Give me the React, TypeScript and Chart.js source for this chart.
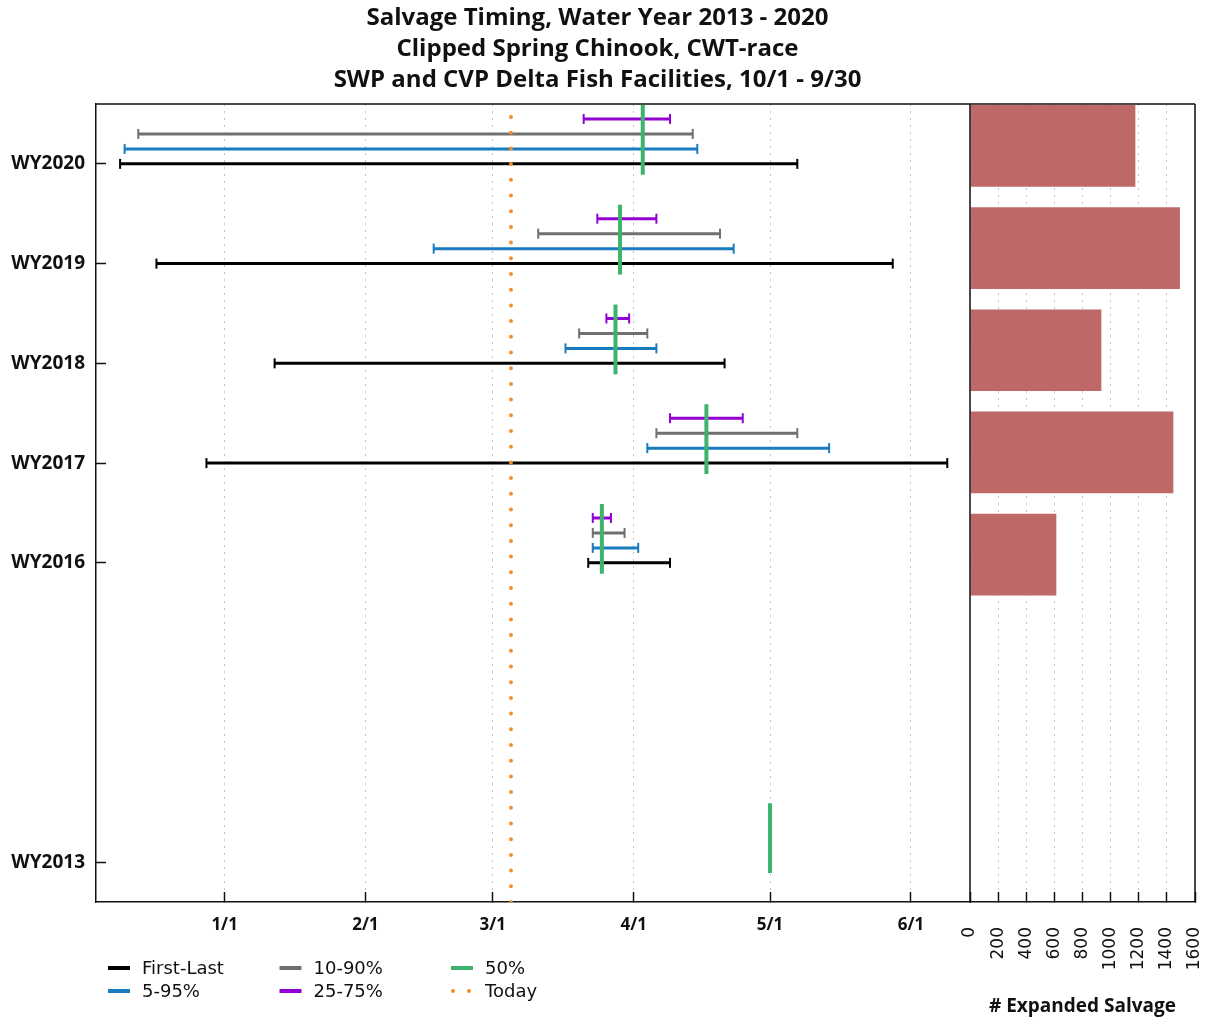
import { useEffect, useRef } from 'react';
import { Chart, registerables } from 'chart.js';

Chart.register(...registerables);

// ---------- data ----------
const titleLines = [
  'Salvage Timing, Water Year 2013 - 2020',
  'Clipped Spring Chinook, CWT-race',
  'SWP and CVP Delta Fish Facilities, 10/1 - 9/30',
];

const waterYears = [2020, 2019, 2018, 2017, 2016];
const firstLastStart = ['12/09', '12/17', '01/12', '12/28', '03/22'];
const firstLastEnd = ['05/07', '05/28', '04/21', '06/09', '04/09'];
const p5Start = ['12/10', '02/16', '03/17', '04/04', '03/23'];
const p95End = ['04/15', '04/23', '04/06', '05/14', '04/02'];
const p10Start = ['12/13', '03/11', '03/20', '04/06', '03/23'];
const p90End = ['04/14', '04/20', '04/04', '05/07', '03/30'];
const p25Start = ['03/21', '03/24', '03/26', '04/09', '03/23'];
const p75End = ['04/09', '04/06', '03/31', '04/25', '03/27'];

const medianYears = [2020, 2019, 2018, 2017, 2016, 2013];
const medianDates = ['04/03', '03/29', '03/28', '04/17', '03/25', '05/01'];

const salvageYears = [2020, 2019, 2018, 2017, 2016];
const salvageCounts = [1176, 1493, 934, 1446, 614];

const todayDate = '03/05';

const yearTicks = [2020, 2019, 2018, 2017, 2016, 2013];
const monthTickDates = ['01/01', '02/01', '03/01', '04/01', '05/01', '06/01'];
const monthTickLabels = ['1/1', '2/1', '3/1', '4/1', '5/1', '6/1'];
const axisStartDate = '12/03.7';
const axisEndDate = '06/14';
const salvageTicks = [0, 200, 400, 600, 800, 1000, 1200, 1400, 1600];

// ---------- helpers ----------
const monthStart: Record<number, number> = {
  10: 0, 11: 31, 12: 61, 1: 92, 2: 123, 3: 151, 4: 182, 5: 212, 6: 243, 7: 273, 8: 304, 9: 335,
};
function dayOfWY(s: string): number {
  const [m, d] = s.split('/').map(Number);
  return monthStart[m] + d - 1;
}

const COLORS = {
  black: '#000000',
  blue: '#1a7bbf',
  gray: '#707070',
  purple: '#9400d3',
  green: '#3cb46e',
  orange: '#f28e2b',
  bar: '#bf6868',
  text: '#111111',
  grid: '#c4c4c4',
};

function rangeData(starts: string[], ends: string[], offset: number) {
  const pts: { x: number; y: number | null }[] = [];
  waterYears.forEach((yr, i) => {
    pts.push({ x: dayOfWY(starts[i]), y: yr + offset });
    pts.push({ x: dayOfWY(ends[i]), y: yr + offset });
    pts.push({ x: dayOfWY(ends[i]), y: null });
  });
  return pts;
}

function medianData() {
  const pts: { x: number; y: number | null }[] = [];
  medianYears.forEach((yr, i) => {
    const x = dayOfWY(medianDates[i]);
    pts.push({ x, y: yr - 0.11 });
    pts.push({ x, y: yr + 0.59 });
    pts.push({ x, y: null });
  });
  return pts;
}

const legendItems = [
  { label: 'First-Last', color: COLORS.black, dotted: false },
  { label: '5-95%', color: COLORS.blue, dotted: false },
  { label: '10-90%', color: COLORS.gray, dotted: false },
  { label: '25-75%', color: COLORS.purple, dotted: false },
  { label: '50%', color: COLORS.green, dotted: false },
  { label: 'Today', color: COLORS.orange, dotted: true },
];

const framePlugin = {
  id: 'frame',
  afterDraw(chart: any) {
    const { ctx, chartArea: a, scales } = chart;
    const split = scales.x.right;
    ctx.save();
    ctx.strokeStyle = COLORS.text;
    ctx.lineWidth = 1.5;
    ctx.beginPath();
    ctx.moveTo(a.left, a.top);
    ctx.lineTo(a.right, a.top);
    ctx.moveTo(split, a.top);
    ctx.lineTo(split, a.bottom);
    ctx.moveTo(a.right, a.top);
    ctx.lineTo(a.right, a.bottom);
    ctx.stroke();
    ctx.restore();
  },
};

const legendPlugin = {
  id: 'customLegend',
  afterDraw(chart: any) {
    const { ctx } = chart;
    ctx.save();
    ctx.font = '18px "DejaVu Sans"';
    ctx.textBaseline = 'middle';
    ctx.textAlign = 'left';
    legendItems.forEach((item, i) => {
      const col = Math.floor(i / 2);
      const row = i % 2;
      const x0 = 108 + col * 171.5;
      const y0 = 968 + row * 23;
      if (item.dotted) {
        ctx.fillStyle = item.color;
        [x0 + 2, x0 + 18].forEach((dx) => {
          ctx.beginPath();
          ctx.arc(dx, y0, 2, 0, Math.PI * 2);
          ctx.fill();
        });
      } else {
        ctx.strokeStyle = item.color;
        ctx.lineWidth = 4;
        ctx.beginPath();
        ctx.moveTo(x0, y0);
        ctx.lineTo(x0 + 22, y0);
        ctx.stroke();
      }
      ctx.fillStyle = COLORS.text;
      ctx.fillText(item.label, x0 + 34, y0 + 1);
    });
    ctx.restore();
  },
};

function lineDataset(label: string, data: any[], color: string, order: number) {
  return {
    type: 'line' as const,
    label,
    data,
    xAxisID: 'x',
    yAxisID: 'y',
    borderColor: color,
    borderWidth: 3,
    pointStyle: 'line' as const,
    pointRotation: 90,
    pointRadius: 5,
    pointBorderWidth: 2,
    pointBorderColor: color,
    pointBackgroundColor: color,
    spanGaps: false,
    tension: 0,
    order,
  };
}

const noPadH = (s: any) => {
  s.paddingLeft = 0;
  s.paddingRight = 0;
};

export default function App() {
  const ref = useRef<HTMLCanvasElement>(null);

  useEffect(() => {
    if (!ref.current) return;
    const tickFontBold = (size: number) => ({ family: '"Open Sans"', weight: 'bold' as const, size });

    const chart = new Chart(ref.current, {
      type: 'line',
      data: {
        datasets: [
          {
            type: 'line',
            label: '50%',
            data: medianData(),
            xAxisID: 'x',
            yAxisID: 'y',
            borderColor: COLORS.green,
            borderWidth: 4,
            pointRadius: 0,
            spanGaps: false,
            order: 0,
          } as any,
          {
            type: 'line',
            label: 'Today',
            data: [
              { x: dayOfWY(todayDate), y: 2012.6 },
              { x: dayOfWY(todayDate), y: 2020.6 },
            ],
            xAxisID: 'x',
            yAxisID: 'y',
            borderColor: COLORS.orange,
            borderWidth: 4,
            borderDash: [0, 15.7],
            borderCapStyle: 'round',
            pointRadius: 0,
            order: 1,
          } as any,
          lineDataset('25-75%', rangeData(p25Start, p75End, 0.45), COLORS.purple, 2) as any,
          lineDataset('10-90%', rangeData(p10Start, p90End, 0.3), COLORS.gray, 3) as any,
          lineDataset('5-95%', rangeData(p5Start, p95End, 0.15), COLORS.blue, 4) as any,
          lineDataset('First-Last', rangeData(firstLastStart, firstLastEnd, 0), COLORS.black, 5) as any,
          {
            type: 'bar',
            label: '# Expanded Salvage',
            data: salvageYears.map((yr, i) => ({ x: salvageCounts[i], y: yr })),
            indexAxis: 'y',
            xAxisID: 'x2',
            yAxisID: 'y2',
            backgroundColor: COLORS.bar,
            borderWidth: 0,
            grouped: false,
            barPercentage: 0.8,
            categoryPercentage: 1,
            order: 6,
          } as any,
        ],
      },
      options: {
        responsive: false,
        maintainAspectRatio: false,
        devicePixelRatio: 1,
        animation: false,
        events: [],
        layout: { padding: { top: 0, left: 0, right: 19, bottom: 0 } },
        plugins: {
          legend: { display: false },
          tooltip: { enabled: false },
          title: {
            display: true,
            text: titleLines,
            color: COLORS.text,
            font: { family: '"Open Sans"', weight: 'bold', size: 24, lineHeight: 31 / 24 },
            padding: { top: 2.5, bottom: 8.5 },
          },
        },
        scales: {
          x: {
            type: 'linear',
            position: 'bottom',
            offset: false,
            stack: 'bottomStack',
            stackWeight: 874,
            min: dayOfWY(axisStartDate),
            max: dayOfWY(axisEndDate),
            afterBuildTicks: (s: any) => {
              s.ticks = monthTickDates.map((d) => ({ value: dayOfWY(d) }));
            },
            afterFit: (s: any) => {
              s.height = 117;
              noPadH(s);
            },
            ticks: {
              autoSkip: false,
              maxRotation: 0,
              minRotation: 0,
              padding: 23,
              color: COLORS.text,
              font: tickFontBold(17),
              callback: (_v: any, i: number) => monthTickLabels[i],
            },
            grid: {
              offset: false,
              color: COLORS.grid,
              lineWidth: 1,
              tickLength: -10,
              tickColor: COLORS.text,
              tickWidth: 1.5,
            },
            border: { display: true, color: COLORS.text, width: 1.5, dash: [2, 5] },
          },
          x2: {
            type: 'linear',
            position: 'bottom',
            offset: false,
            stack: 'bottomStack',
            stackWeight: 225,
            min: 0,
            max: 1600,
            beginAtZero: true,
            afterBuildTicks: (s: any) => {
              s.ticks = salvageTicks.map((v) => ({ value: v }));
            },
            afterFit: (s: any) => {
              s.height = 117;
              noPadH(s);
            },
            ticks: {
              autoSkip: false,
              maxRotation: 90,
              minRotation: 90,
              padding: 35,
              color: COLORS.text,
              font: { family: '"DejaVu Sans"', size: 17 },
              callback: (v: any) => String(v),
            },
            grid: {
              offset: false,
              color: COLORS.grid,
              lineWidth: 1,
              tickLength: -10,
              tickColor: COLORS.text,
              tickWidth: 1.5,
            },
            border: { display: true, color: COLORS.text, width: 1.5, dash: [2, 5] },
            title: {
              display: true,
              text: '# Expanded Salvage',
              color: COLORS.text,
              font: { family: '"Open Sans"', weight: 'bold', size: 19 },
              padding: { top: 0, bottom: 1 },
            },
          },
          y: {
            type: 'linear',
            position: 'left',
            offset: false,
            min: 2012.6,
            max: 2020.6,
            afterBuildTicks: (s: any) => {
              s.ticks = yearTicks.map((v) => ({ value: v }));
            },
            afterFit: (s: any) => {
              s.width = 96;
              s.paddingTop = 0;
              s.paddingBottom = 0;
            },
            ticks: {
              autoSkip: false,
              padding: 21,
              color: COLORS.text,
              font: tickFontBold(19),
              callback: (v: any) => 'WY' + v,
            },
            grid: {
              offset: false,
              drawOnChartArea: false,
              tickLength: -10,
              tickColor: COLORS.text,
              tickWidth: 1.5,
            },
            border: { display: true, color: COLORS.text, width: 1.5 },
          },
          y2: {
            type: 'linear',
            position: 'right',
            display: false,
            offset: false,
            min: 2012.6,
            max: 2020.41,
            grid: { offset: false },
            afterBuildTicks: (s: any) => {
              s.ticks = salvageYears.map((v) => ({ value: v }));
            },
            afterFit: (s: any) => {
              s.width = 0;
              s.paddingTop = 0;
              s.paddingBottom = 0;
            },
          },
        },
      } as any,
      plugins: [framePlugin, legendPlugin],
    });
    return () => chart.destroy();
  }, []);

  return (
    <div style={{ position: 'absolute', left: 0, top: 0, width: 1214, height: 1019, background: '#fff' }}>
      <canvas ref={ref} width={1214} height={1019} style={{ display: 'block', width: 1214, height: 1019 }} />
    </div>
  );
}
